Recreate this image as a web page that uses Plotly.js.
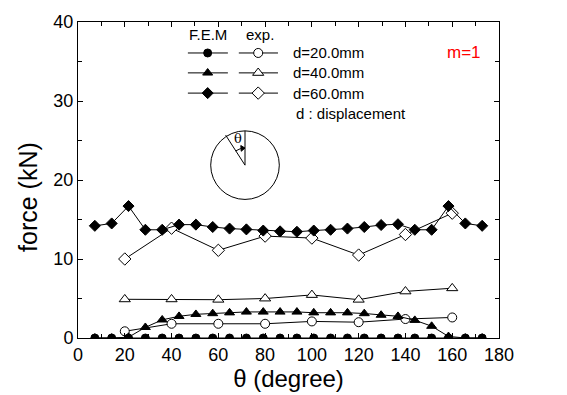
<!DOCTYPE html>
<html><head><meta charset="utf-8">
<script src="https://cdn.plot.ly/plotly-3.0.1.min.js"></script>
<style>html,body{margin:0;padding:0;background:#fff}#c{width:567px;height:395px}</style>
</head><body><div id="c"></div>
<script>
// FEM angles (every 7.2 degrees)
const femTheta = [7.2,14.4,21.6,28.8,36,43.2,50.4,57.6,64.8,72,79.2,86.4,93.6,100.8,108,115.2,122.4,129.6,136.8,144,151.2,158.4,165.6,172.8];
const femD20 = [0,0,0,0,0,0,0,0,0,0,0,0,0,0,0,0,0,0,0,0,0,0,0,0];
const femD40 = [0,0,0.1,1.35,2.3,2.75,3.0,3.1,3.2,3.3,3.3,3.3,3.3,3.2,3.2,3.2,3.1,2.9,2.75,2.25,1.5,0.2,0,0];
const femD60 = [14.2,14.5,16.7,13.7,13.7,14.35,14.35,14.05,13.85,13.75,13.6,13.5,13.45,13.6,13.7,13.85,14.05,14.3,14.4,13.7,13.7,16.7,14.5,14.2];
// Experimental angles
const expTheta = [20,40,60,80,100,120,140,160];
const expD20 = [0.85,1.8,1.8,1.8,2.1,2.0,2.4,2.6];
const expD40 = [4.9,4.9,4.85,5.0,5.45,4.85,5.9,6.3];
const expD60 = [10.0,13.9,11.1,12.9,12.65,10.5,13.1,15.8];
const labels = ["d=20.0mm","d=40.0mm","d=60.0mm"];

const FONT = "Liberation Sans, Arial, sans-serif";
const line = {color:'black', width:1};
const SZ = {circle:8, 'triangle-up':8.7, diamond:8.5};
function fem(y, sym){
  return {x:femTheta, y:y, mode:'lines+markers', line:line,
    marker:{symbol:sym, size:SZ[sym], color:'black', line:{color:'black', width:1}}, showlegend:false, hoverinfo:'skip'};
}
function exp(y, sym){
  return {x:expTheta, y:y, mode:'lines+markers', line:line,
    marker:{symbol:sym, size:SZ[sym]+1, color:'white', line:{color:'black', width:1}}, showlegend:false, hoverinfo:'skip'};
}
const traces = [
  exp(expD60,'diamond'), exp(expD40,'triangle-up'), exp(expD20,'circle'),
  fem(femD60,'diamond'), fem(femD40,'triangle-up'), fem(femD20,'circle')
];

// legend samples on an overlay axis (paper-like 0..1)
const legRowsY = [0.902, 0.839, 0.775];
const syms = ['circle','triangle-up','diamond'];
for (let i=0;i<3;i++){
  traces.push({x:[0.261,0.308,0.356], y:[legRowsY[i],legRowsY[i],legRowsY[i]], xaxis:'x2', yaxis:'y2',
    mode:'lines', line:line, showlegend:false, hoverinfo:'skip'});
  traces.push({x:[0.308], y:[legRowsY[i]], xaxis:'x2', yaxis:'y2', mode:'markers',
    marker:{symbol:syms[i], size:SZ[syms[i]], color:'black', line:{color:'black',width:1}}, showlegend:false, hoverinfo:'skip'});
  traces.push({x:[0.382,0.428,0.475], y:[legRowsY[i],legRowsY[i],legRowsY[i]], xaxis:'x2', yaxis:'y2',
    mode:'lines', line:line, showlegend:false, hoverinfo:'skip'});
  traces.push({x:[0.428], y:[legRowsY[i]], xaxis:'x2', yaxis:'y2', mode:'markers',
    marker:{symbol:syms[i], size:SZ[syms[i]]+1, color:'white', line:{color:'black',width:1}}, showlegend:false, hoverinfo:'skip'});
}

const A = (o)=>Object.assign({xref:'paper', yref:'paper', showarrow:false, xanchor:'center', yanchor:'middle'}, o);
const annotations = [
  A({x:0.308, y:0.960, text:'F.E.M', font:{family:FONT,size:15,color:'black'}}),
  A({x:0.432, y:0.960, text:'exp.', font:{family:FONT,size:15,color:'black'}}),
  A({x:0.917, y:0.902, text:'m=1', font:{family:FONT,size:17,color:'red'}}),
  A({x:0.514, y:0.712, text:'d : displacement', xanchor:'left', font:{family:FONT,size:15,color:'black'}}),
  A({x:0.380, y:0.630, text:'θ', font:{family:'DejaVu Serif, serif',size:13,color:'black'}}),
  A({x:-0.119, y:0.446, text:'force (kN)', textangle:-90, font:{family:FONT,size:25,color:'black'}})
];
labels.forEach((t,i)=>annotations.push(A({x:0.507, y:legRowsY[i], text:t, xanchor:'left', font:{family:FONT,size:15,color:'black'}})));

// circle diagram (paper coords)
const cx = 0.3967, cy = 0.547, rx = 0.0815, ry = 0.1085;
const shapes = [
  {type:'circle', xref:'paper', yref:'paper', x0:cx-rx, x1:cx+rx, y0:cy-ry, y1:cy+ry, line:{color:'black',width:1}},
  {type:'line', xref:'paper', yref:'paper', x0:cx, y0:cy, x1:cx, y1:cy+ry, line:{color:'black',width:1}},
  {type:'line', xref:'paper', yref:'paper', x0:cx, y0:cy, x1:cx-0.046, y1:cy+0.095, line:{color:'black',width:1}},
  {type:'path', xref:'paper', yref:'paper', path:`M ${cx-0.022} ${cy+0.045} Q ${cx-0.011} ${cy+0.054} ${cx-0.002} ${cy+0.054}`, line:{color:'black',width:1}},
  {type:'path', xref:'paper', yref:'paper', path:`M ${cx-0.010} ${cy+0.062} L ${cx} ${cy+0.054} L ${cx-0.009} ${cy+0.044} Z`, fillcolor:'black', line:{color:'black',width:1}}
];

const layout = {
  width:567, height:395, margin:{l:78, r:68, t:22, b:57},
  paper_bgcolor:'white', plot_bgcolor:'white',
  font:{family:FONT, color:'black'},
  xaxis:{range:[0,180], dtick:20, tick0:0, ticks:'inside', ticklen:5, tickwidth:1, tickcolor:'black',
    minor:{dtick:10, ticks:'inside', ticklen:4, tickcolor:'black'},
    showline:true, linecolor:'black', linewidth:1, mirror:'allticks', showgrid:false, zeroline:false,
    tickfont:{family:FONT, size:18, color:'black'},
    title:{text:'θ (degree)', font:{family:FONT, size:24, color:'black'}, standoff:2}},
  yaxis:{range:[0,40], dtick:10, tick0:0, ticks:'inside', ticklen:5, tickwidth:1, tickcolor:'black',
    minor:{dtick:5, ticks:'inside', ticklen:4, tickcolor:'black'},
    showline:true, linecolor:'black', linewidth:1, mirror:'allticks', showgrid:false, zeroline:false,
    tickfont:{family:FONT, size:18, color:'black'}},
  xaxis2:{overlaying:'x', range:[0,1], visible:false, anchor:'y2'},
  yaxis2:{overlaying:'y', range:[0,1], visible:false, anchor:'x2'},
  annotations:annotations, shapes:shapes, showlegend:false
};
Plotly.newPlot('c', traces, layout, {staticPlot:true, displayModeBar:false});
</script></body></html>
